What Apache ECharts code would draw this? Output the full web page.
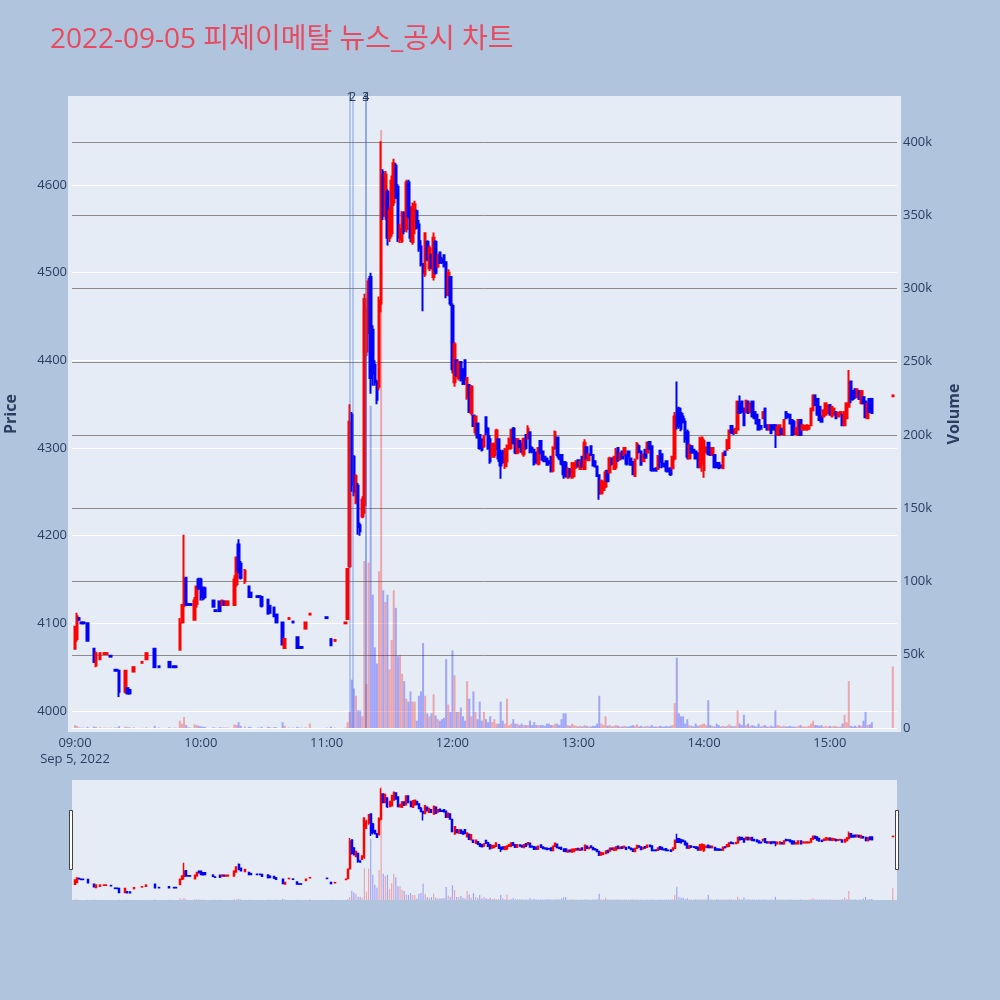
<!DOCTYPE html>
<html>
<head>
<meta charset="utf-8">
<script src="https://cdn.jsdelivr.net/npm/echarts@6/dist/echarts.min.js"></script>
<style>
html,body{margin:0;padding:0;background:#b0c4de;}
#chart{width:1000px;height:1000px;}
</style>
</head>
<body>
<div id="chart"></div>
<script>
const chartTitle = "2022-09-05 피제이메탈 뉴스_공시 차트";
const dateLabel = "Sep 5, 2022";
const timeTicks = ["09:00","10:00","11:00","12:00","13:00","14:00","15:00"];
const newsTimes = ["11:11:06","11:12:24","11:18:36","11:18:42"];
const newsLabels = ["1","2","3","4"];

const times = [
"09:00","09:01","09:02","09:03","09:04","09:06","09:09","09:10","09:12","09:14",
"09:15","09:17","09:19","09:20","09:21","09:24","09:25","09:26","09:28","09:32",
"09:34","09:38","09:40","09:45","09:47","09:48","09:50","09:51","09:52","09:53",
"09:54","09:55","09:57","09:58","09:59","10:00","10:01","10:02","10:06","10:07",
"10:09","10:10","10:11","10:12","10:13","10:16","10:17","10:18","10:19","10:21",
"10:23","10:24","10:27","10:28","10:29","10:32","10:33","10:35","10:36","10:39",
"10:40","10:42","10:44","10:46","10:47","10:48","10:50","10:52","11:00","11:02",
"11:04","11:09",
"11:10","11:11","11:12","11:13","11:14","11:15","11:16","11:17","11:18","11:19",
"11:20","11:21","11:22","11:23","11:24","11:25","11:26","11:27","11:28","11:29",
"11:30","11:31","11:32","11:33","11:34","11:35","11:36","11:37","11:38","11:39",
"11:40","11:41","11:42","11:43","11:44","11:45","11:46","11:47","11:48","11:49",
"11:50","11:51","11:52","11:53","11:54","11:55","11:56","11:57","11:58","11:59",
"12:00","12:01","12:02","12:03","12:04","12:05","12:06","12:07","12:08","12:09",
"12:10","12:11","12:12","12:13","12:14","12:15","12:16","12:17","12:18","12:19",
"12:20","12:21","12:22","12:23","12:24","12:25","12:26","12:27","12:28","12:29",
"12:30","12:31","12:32","12:33","12:34","12:35","12:36","12:37","12:38","12:39",
"12:40","12:41","12:42","12:43","12:44","12:45","12:46","12:47","12:48","12:49",
"12:50","12:51","12:52","12:53","12:54","12:55","12:56","12:57","12:58","12:59",
"13:00","13:01","13:02","13:03","13:04","13:05","13:06","13:07","13:08","13:09",
"13:10","13:11","13:12","13:13","13:14","13:15","13:16","13:17","13:18","13:19",
"13:20","13:21","13:22","13:23","13:24","13:25","13:26","13:27","13:28","13:29",
"13:30","13:31","13:32","13:33","13:34","13:35","13:36","13:37","13:38","13:39",
"13:40","13:41","13:42","13:43","13:44","13:45","13:46","13:47","13:48","13:49",
"13:50","13:51","13:52","13:53","13:54","13:55","13:56","13:57","13:58","13:59",
"14:00","14:01","14:02","14:03","14:04","14:05","14:06","14:07","14:08","14:09",
"14:10","14:11","14:12","14:13","14:14","14:15","14:16","14:17","14:18","14:19",
"14:20","14:21","14:22","14:23","14:24","14:25","14:26","14:27","14:28","14:29",
"14:30","14:31","14:32","14:33","14:34","14:35","14:36","14:37","14:38","14:39",
"14:40","14:41","14:42","14:43","14:44","14:45","14:46","14:47","14:48","14:49",
"14:50","14:51","14:52","14:53","14:54","14:55","14:56","14:57","14:58","14:59",
"15:00","15:01","15:02","15:03","15:04","15:05","15:06","15:07","15:08","15:09",
"15:10","15:11","15:12","15:13","15:14","15:15","15:16","15:17","15:18","15:19",
"15:20","15:30"
];

const opens = [
4071,4082,4106,4101,4101,4100,4071,4052,4059,4065,
4065,4063,4047,4047,4046,4022,4026,4024,4045,4055,
4059,4071,4051,4056,4051,4051,4070,4101,4120,4152,
4122,4122,4104,4122,4150,4150,4140,4140,4126,4115,
4125,4121,4125,4121,4121,4121,4145,4190,4168,4148,
4142,4135,4131,4131,4130,4127,4120,4118,4110,4101,
4072,4105,4102,4084,4073,4073,4094,4110,4107,4082,
4080,4100,
4105,4165,4338,4290,4238,4257,4212,4222,4235,4410,
4440,4495,4435,4395,4375,4370,4465,4615,4565,4592,
4540,4545,4580,4622,4598,4538,4536,4568,4550,4603,
4568,4535,4550,4570,4555,4530,4510,4498,4535,4505,
4520,4495,4535,4507,4523,4515,4520,4512,4475,4495,
4462,4375,4400,4380,4398,4390,4400,4358,4372,4340,
4337,4318,4328,4315,4310,4302,4335,4322,4310,4290,
4292,4300,4310,4295,4296,4280,4285,4300,4300,4322,
4310,4295,4308,4305,4293,4315,4311,4318,4300,4298,
4295,4282,4308,4296,4290,4288,4285,4290,4274,4300,
4312,4292,4292,4284,4283,4266,4276,4266,4268,4278,
4286,4276,4290,4276,4301,4286,4302,4292,4285,4279,
4269,4248,4252,4256,4274,4272,4288,4276,4278,4300,
4287,4296,4292,4292,4296,4288,4284,4268,4288,4302,
4296,4285,4298,4295,4307,4302,4276,4277,4276,4297,
4293,4282,4285,4276,4277,4277,4288,4345,4345,4340,
4336,4330,4318,4288,4302,4298,4296,4294,4278,4282,
4275,4295,4306,4300,4292,4292,4283,4283,4280,4277,
4296,4298,4300,4325,4320,4317,4321,4352,4353,4345,
4341,4353,4341,4353,4341,4338,4332,4325,4334,4345,
4326,4321,4326,4326,4326,4315,4315,4322,4315,4341,
4338,4338,4332,4330,4316,4315,4332,4321,4321,4321,
4322,4326,4343,4360,4356,4347,4336,4336,4338,4340,
4349,4336,4338,4341,4336,4339,4338,4326,4334,4347,
4376,4365,4367,4358,4365,4351,4358,4353,4334,4356,
4356,4359
];

const closes = [
4096,4108,4104,4100,4100,4080,4056,4066,4066,4066,
4066,4062,4046,4046,4022,4046,4020,4020,4050,4056,
4066,4050,4050,4050,4050,4050,4100,4121,4150,4121,
4121,4121,4126,4142,4140,4130,4128,4130,4119,4114,
4114,4126,4121,4125,4125,4150,4175,4160,4152,4160,
4130,4130,4130,4130,4120,4111,4112,4108,4101,4076,
4082,4106,4101,4072,4072,4072,4101,4111,4106,4075,
4081,4101,
4162,4330,4258,4250,4268,4210,4205,4241,4470,4450,
4490,4380,4385,4375,4355,4468,4612,4565,4612,4540,
4570,4605,4625,4586,4540,4550,4568,4548,4603,4565,
4540,4575,4578,4552,4528,4510,4500,4545,4515,4528,
4506,4540,4500,4520,4512,4512,4508,4475,4500,4465,
4390,4418,4383,4398,4378,4374,4378,4380,4342,4370,
4325,4336,4312,4300,4298,4314,4318,4300,4285,4305,
4304,4320,4288,4280,4284,4298,4302,4310,4320,4306,
4295,4310,4302,4296,4310,4300,4322,4296,4296,4282,
4284,4300,4295,4287,4285,4281,4283,4274,4300,4318,
4292,4288,4282,4270,4268,4276,4268,4282,4282,4285,
4279,4284,4279,4306,4288,4293,4292,4280,4279,4268,
4248,4262,4260,4272,4262,4288,4282,4290,4296,4286,
4294,4288,4300,4282,4290,4281,4270,4286,4305,4296,
4281,4292,4289,4306,4299,4275,4275,4274,4290,4284,
4280,4279,4274,4274,4270,4290,4336,4325,4325,4322,
4330,4310,4290,4303,4295,4295,4288,4278,4310,4312,
4308,4300,4293,4292,4300,4278,4278,4277,4278,4294,
4292,4309,4320,4318,4317,4322,4353,4340,4342,4326,
4354,4340,4351,4336,4334,4328,4321,4322,4341,4324,
4321,4326,4317,4321,4322,4324,4326,4316,4332,4334,
4336,4328,4315,4316,4322,4332,4315,4326,4325,4326,
4325,4345,4360,4349,4338,4332,4330,4343,4351,4348,
4338,4347,4345,4334,4340,4341,4326,4341,4351,4375,
4356,4356,4358,4367,4356,4365,4351,4335,4351,4341,
4340,4360
];

const lows = [
4070,4079,4104,4100,4100,4080,4055,4050,4059,4065,
4065,4062,4046,4046,4016,4020,4020,4020,4045,4055,
4059,4050,4050,4050,4050,4050,4070,4101,4100,4121,
4121,4121,4104,4118,4138,4126,4126,4128,4119,4114,
4114,4121,4121,4121,4121,4120,4142,4157,4150,4145,
4129,4130,4130,4130,4118,4111,4112,4108,4101,4075,
4071,4105,4101,4071,4072,4072,4094,4110,4106,4075,
4080,4100,
4104,4163,4250,4245,4236,4201,4200,4220,4225,4405,
4430,4362,4371,4371,4350,4366,4455,4560,4560,4531,
4535,4541,4576,4584,4535,4534,4534,4544,4546,4562,
4535,4532,4544,4550,4524,4507,4456,4495,4513,4502,
4504,4491,4498,4505,4510,4510,4506,4471,4473,4462,
4385,4370,4381,4377,4376,4372,4372,4355,4340,4337,
4324,4315,4311,4298,4296,4300,4315,4298,4282,4289,
4289,4298,4284,4265,4282,4276,4278,4298,4298,4304,
4293,4293,4300,4294,4290,4298,4310,4294,4294,4280,
4282,4280,4293,4285,4284,4280,4280,4272,4272,4298,
4289,4286,4280,4265,4266,4265,4266,4265,4266,4276,
4278,4275,4278,4275,4287,4286,4291,4279,4278,4267,
4241,4247,4251,4254,4261,4271,4280,4275,4275,4284,
4287,4287,4292,4280,4289,4280,4269,4267,4288,4294,
4280,4284,4288,4294,4298,4273,4273,4273,4275,4277,
4277,4278,4272,4272,4268,4276,4286,4321,4322,4319,
4328,4306,4287,4287,4294,4294,4287,4277,4277,4273,
4266,4294,4292,4291,4292,4277,4277,4277,4277,4277,
4292,4298,4300,4316,4315,4316,4321,4340,4340,4326,
4341,4340,4341,4336,4334,4328,4321,4321,4334,4324,
4321,4321,4317,4321,4300,4315,4315,4315,4315,4334,
4334,4328,4315,4315,4315,4315,4315,4321,4320,4321,
4322,4326,4343,4349,4338,4332,4330,4336,4338,4339,
4338,4336,4338,4334,4335,4339,4326,4326,4334,4347,
4351,4354,4356,4358,4356,4351,4351,4334,4334,4341,
4340,4359
];

const highs = [
4097,4112,4106,4101,4101,4101,4072,4068,4066,4066,
4066,4063,4047,4047,4046,4046,4026,4025,4050,4056,
4066,4071,4051,4056,4051,4051,4106,4121,4201,4152,
4122,4122,4130,4142,4152,4152,4142,4142,4126,4115,
4125,4126,4125,4125,4125,4155,4176,4196,4171,4162,
4143,4135,4131,4131,4131,4127,4120,4118,4110,4101,
4082,4106,4102,4085,4073,4073,4101,4111,4107,4082,
4081,4101,
4162,4350,4341,4292,4270,4260,4215,4245,4476,4460,
4494,4500,4440,4400,4378,4473,4650,4618,4616,4595,
4575,4611,4630,4625,4601,4556,4570,4570,4606,4606,
4575,4580,4582,4572,4560,4537,4511,4546,4537,4531,
4522,4546,4537,4522,4524,4518,4521,4513,4504,4495,
4465,4421,4401,4399,4399,4390,4401,4381,4372,4372,
4337,4337,4328,4315,4311,4315,4335,4324,4315,4306,
4306,4322,4311,4298,4298,4300,4304,4312,4322,4324,
4311,4311,4309,4306,4312,4315,4326,4318,4302,4298,
4296,4301,4308,4297,4291,4289,4286,4291,4302,4320,
4313,4293,4293,4284,4285,4278,4277,4284,4284,4286,
4287,4286,4290,4310,4302,4294,4303,4292,4285,4280,
4270,4264,4262,4275,4275,4290,4289,4290,4300,4300,
4294,4296,4300,4293,4297,4288,4285,4288,4307,4304,
4296,4294,4298,4307,4307,4302,4277,4277,4292,4297,
4293,4283,4285,4277,4277,4290,4341,4376,4347,4346,
4340,4334,4321,4305,4302,4299,4296,4294,4313,4313,
4311,4302,4306,4300,4300,4292,4283,4283,4281,4294,
4296,4309,4321,4325,4322,4323,4353,4360,4353,4345,
4354,4353,4351,4353,4341,4338,4332,4326,4341,4345,
4326,4326,4326,4326,4326,4324,4326,4322,4332,4341,
4340,4338,4332,4332,4324,4332,4332,4326,4326,4326,
4326,4345,4360,4360,4356,4347,4336,4343,4351,4350,
4349,4347,4345,4341,4341,4341,4338,4341,4351,4389,
4376,4365,4367,4367,4365,4365,4358,4353,4351,4356,
4356,4360
];

const volumes = [
2000,1500,300,200,200,800,1000,800,500,200,
200,200,300,300,1200,1000,500,400,500,200,
500,1500,300,500,200,200,5000,3000,7500,2000,
300,300,2500,2000,1500,1200,800,800,500,200,
500,400,300,300,300,2500,2000,4000,1500,1000,
800,500,200,200,800,800,500,600,500,4000,
1500,300,200,800,200,200,500,3000,300,1000,
300,300,
4000,11000,33000,27000,22000,12000,12000,8000,114000,30000,
113000,220000,91000,55000,44000,107000,408000,94000,86000,91000,
40000,60000,94000,82000,49000,50000,37000,32000,20000,18000,
25000,18000,18000,5000,22000,25000,58000,22000,10000,8000,
10000,23000,8500,6000,5000,6000,7000,47000,16000,11000,
53000,36000,11000,11000,14000,8000,5000,32000,20000,8000,
25000,11000,6000,18000,5000,11000,6000,4000,8000,4000,
6000,3000,3000,18000,5000,3000,20000,2000,3000,6000,
3000,3000,2000,3000,2000,2000,2000,5000,2000,4000,
2000,2000,2000,2000,1500,3000,3000,2000,2000,3000,
3000,2000,6000,10000,10000,2000,1500,3000,2000,1500,
1000,1500,1000,2000,1500,1000,1000,1500,1500,3000,
22000,3000,2000,8000,1500,2000,1000,1500,2000,1500,
1000,1000,1500,1000,1000,1500,2000,1500,2500,1000,
1500,1000,1000,1500,1000,2000,1000,1000,1000,1500,
1000,1000,1500,1000,1500,2000,17000,48000,10000,8000,
8000,3000,6000,2000,1500,1000,3000,1500,2000,2500,
3000,2000,19000,2000,1500,1000,3000,2000,1000,1500,
1000,1500,2500,1500,1000,1500,12000,3000,2000,9000,
2000,3000,1500,2000,1500,1000,3000,1000,1500,2000,
1000,1000,1500,1000,12000,2000,1500,1000,1500,1000,
1000,1500,1000,1000,1000,1500,2000,1000,1000,1000,
1500,3000,5000,2000,2000,1500,2000,1000,1500,1000,
1500,1000,1500,1000,1000,1000,3000,9000,4000,32000,
1500,1000,1500,1000,2000,1500,5000,11000,2000,2500,
4000,42000
];

function toMin(t) {
  const p = t.split(':').map(Number);
  return (p[0] - 9) * 60 + p[1] + (p[2] || 0) / 60;
}

const FONT = '"Open Sans", "Noto Sans CJK KR", sans-serif';
const TXT = '#2a3f5f';
const UP = '#ff0000', DOWN = '#0000ff';
const UP_V = 'rgba(255,0,0,0.3)', DOWN_V = 'rgba(0,0,255,0.3)';
const X_MIN = -1.43, X_MAX = 392;

const xs = times.map(toMin);
const candleData = xs.map((x, i) => [x, opens[i], closes[i], lows[i], highs[i]]);
const volData = xs.map((x, i) => ({
  value: [x, volumes[i]],
  itemStyle: { color: closes[i] > opens[i] ? UP_V : DOWN_V }
}));
const tickMins = timeTicks.map(toMin);
const VOL_TOP = 431000;
const newsData = newsTimes.map((t, i) => [
  { name: newsLabels[i], coord: [toMin(t), 0] },
  { coord: [toMin(t), VOL_TOP] }
]);

const chart = echarts.init(document.getElementById('chart'), null, { renderer: 'canvas', width: 1000, height: 1000 });

const option = {
  animation: false,
  backgroundColor: '#b0c4de',
  textStyle: { fontFamily: FONT },
  title: {
    text: chartTitle, left: 50, top: 23, padding: 0,
    textStyle: { color: '#e84a5f', fontSize: 28, fontWeight: 'normal', fontFamily: FONT, lineHeight: 34 }
  },
  graphic: [
    { type: 'rect', z: -100, silent: true, shape: { x: 68, y: 96, width: 833, height: 636 }, style: { fill: '#e5ecf6' } },
    { type: 'rect', z: -100, silent: true, shape: { x: 72, y: 780, width: 825, height: 120 }, style: { fill: '#e5ecf6' } },
    { type: 'rect', z: 100, silent: true, shape: { x: 69.5, y: 810.5, width: 3, height: 59 }, style: { fill: '#ffffff', stroke: '#444444', lineWidth: 1 } },
    { type: 'rect', z: 100, silent: true, shape: { x: 895.5, y: 810.5, width: 3, height: 59 }, style: { fill: '#ffffff', stroke: '#444444', lineWidth: 1 } }
  ],
  grid: [
    { left: 72, right: 103, top: 97.4, height: 701.25, outerBoundsMode: 'none' },
    { left: 72, right: 103, top: 68.75, height: 659.25, outerBoundsMode: 'none' },
    { left: 72, right: 103, top: 780, height: 120, outerBoundsMode: 'none' },
    { left: 72, right: 103, top: 96, height: 636, outerBoundsMode: 'none' }
  ],
  xAxis: [
    { gridIndex: 0, type: 'value', min: X_MIN, max: X_MAX, show: false },
    {
      gridIndex: 1, type: 'value', min: X_MIN, max: X_MAX,
      axisLine: { show: false }, axisTick: { show: false }, splitLine: { show: false },
      axisLabel: {
        customValues: tickMins, color: TXT, fontSize: 13, margin: 7, lineHeight: 16, fontFamily: FONT,
        formatter: function (v) {
          let i = -1;
          for (let k = 0; k < tickMins.length; k++) { if (Math.abs(tickMins[k] - v) < 1e-6) i = k; }
          if (i < 0) return '';
          return i === 0 ? timeTicks[i] + '\n' + dateLabel : timeTicks[i];
        }
      }
    },
    { gridIndex: 2, type: 'value', min: X_MIN, max: X_MAX, show: false },
    { gridIndex: 3, type: 'value', min: 0, max: 1, show: false }
  ],
  yAxis: [
    {
      gridIndex: 0, type: 'value', min: 3900, max: 4700, interval: 100, position: 'left',
      axisLine: { show: false }, axisTick: { show: false },
      axisLabel: { color: TXT, fontSize: 13, margin: 5, showMinLabel: false, showMaxLabel: false, fontFamily: FONT,
        formatter: v => String(v) },
      splitLine: { show: true, showMinLine: false, showMaxLine: false, lineStyle: { color: '#ffffff', width: 1 } }
    },
    {
      gridIndex: 1, type: 'value', min: 0, max: 450000, interval: 50000, position: 'right',
      axisLine: { show: false }, axisTick: { show: false },
      axisLabel: {
        color: TXT, fontSize: 13, margin: 6, showMaxLabel: false, fontFamily: FONT,
        formatter: v => (v === 0 ? '0' : (v / 1000) + 'k')
      },
      splitLine: {
        show: true, showMaxLine: false,
        lineStyle: { width: 1, color: ['#ffffff', '#8c8c8c', '#8c8c8c', '#8c8c8c', '#8c8c8c', '#8c8c8c', '#8c8c8c', '#8c8c8c', '#8c8c8c', '#8c8c8c'] }
      }
    },
    { gridIndex: 2, type: 'value', min: 3976, max: 4700, show: false },
    { gridIndex: 2, type: 'value', min: 0, max: 431000, show: false },
    {
      gridIndex: 3, type: 'value', min: 0, max: 1, position: 'left',
      name: 'Price', nameLocation: 'middle', nameGap: 53, nameRotate: 90,
      nameTextStyle: { color: TXT, fontSize: 16, fontWeight: 'bold', fontFamily: FONT },
      axisLine: { show: false }, axisTick: { show: false }, axisLabel: { show: false }, splitLine: { show: false }
    },
    {
      gridIndex: 3, type: 'value', min: 0, max: 1, position: 'right',
      name: 'Volume', nameLocation: 'middle', nameGap: 49, nameRotate: 90,
      nameTextStyle: { color: TXT, fontSize: 16, fontWeight: 'bold', fontFamily: FONT },
      axisLine: { show: false }, axisTick: { show: false }, axisLabel: { show: false }, splitLine: { show: false }
    }
  ],
  series: [
    {
      name: 'Volume', type: 'bar', xAxisIndex: 1, yAxisIndex: 1, data: volData,
      barWidth: 2, z: 2, silent: true,
      markLine: {
        silent: true, symbol: ['none', 'none'], animation: false,
        lineStyle: { color: 'rgba(65,105,225,0.4)', width: 1.5, type: 'solid' },
        label: { show: true, position: 'end', formatter: '{b}', color: TXT, fontSize: 12, distance: -7, fontFamily: FONT },
        emphasis: { disabled: true },
        data: newsData
      }
    },
    {
      name: 'Price', type: 'candlestick', xAxisIndex: 0, yAxisIndex: 0, data: candleData,
      encode: { x: 0, y: [1, 2, 3, 4] },
      barWidth: 2, z: 3, silent: true,
      itemStyle: { color: UP, color0: DOWN, borderColor: UP, borderColor0: DOWN, borderWidth: 2 }
    },
    {
      name: 'VolumeMini', type: 'bar', xAxisIndex: 2, yAxisIndex: 3, data: volData,
      barWidth: 1.2, silent: true
    },
    {
      name: 'PriceMini', type: 'candlestick', xAxisIndex: 2, yAxisIndex: 2, data: candleData,
      encode: { x: 0, y: [1, 2, 3, 4] },
      barWidth: 1.5, silent: true,
      itemStyle: { color: UP, color0: DOWN, borderColor: UP, borderColor0: DOWN, borderWidth: 1.5 }
    }
  ]
};
chart.setOption(option);
</script>
</body>
</html>
